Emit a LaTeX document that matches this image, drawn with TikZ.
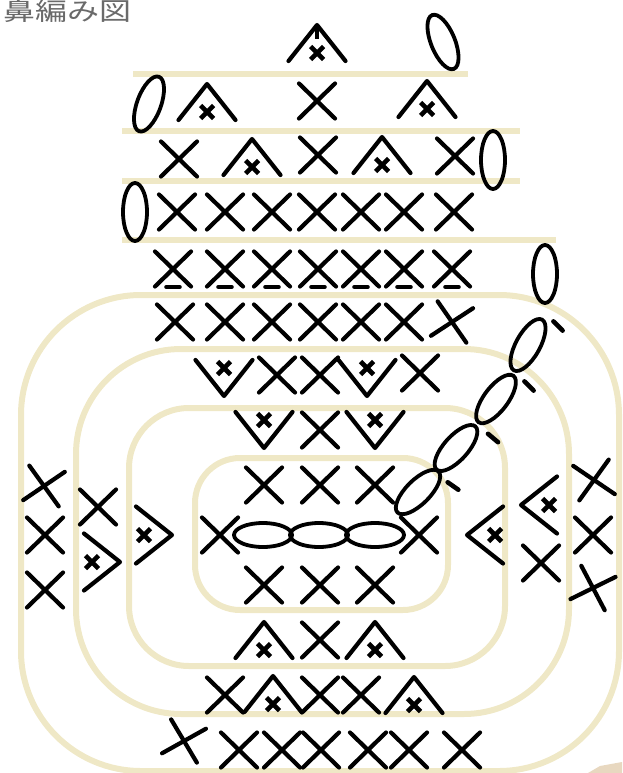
\documentclass[tikz,border=0pt]{standalone}
\usepackage{fontspec}
\newfontfamily\cjkfont{Noto Sans CJK JP}
\definecolor{rowline}{HTML}{EFE8C6}
\definecolor{titlegray}{HTML}{6A6A6A}
\definecolor{smudge}{HTML}{E8D8C0}
\tikzset{
  ink/.style={line width=4.2pt,line cap=round,black},
  rowrule/.style={line width=6pt,rowline},
  xst/.pic={\draw[ink] (-18,-17.5) -- (18,17.5) (-18,17.5) -- (18,-17.5);},
  smallx/.pic={\draw[line width=4.6pt,black] (-6.5,-6.5) -- (6.5,6.5) (-6.5,6.5) -- (6.5,-6.5);},
  tentst/.pic={\draw[ink,line join=round] (-28.5,18) -- (0,-18) -- (28.5,18);
    \pic at (0,10) {smallx};},
  chainst/.pic={\draw[line width=3.8pt,black] (0,0) ellipse [x radius=29,y radius=12];},
  dashst/.pic={\draw[line width=4.6pt,line cap=round,black] (-6.5,0) -- (6.5,0);}
}
\begin{document}
\begin{tikzpicture}[x=1pt,y=-1pt]
\useasboundingbox (0,0) rectangle (622,773);
% rows
\draw[rowrule] (133,74) -- (468,74);
\draw[rowrule] (122,131) -- (520,131);
\draw[rowrule] (122,181) -- (520,181);
\draw[rowrule] (122,240) -- (556,240);
% rounds
\draw[rowrule,rounded corners=120pt] (21,295) rectangle (619,771);
\draw[rowrule,rounded corners=105pt] (76,349) rectangle (569,714);
\draw[rowrule,rounded corners=60pt] (129,408) rectangle (505,666);
\draw[rowrule,rounded corners=45pt] (195,458) rectangle (448,610);
\fill[smudge] (588,773) -- (600,766) -- (622,762) -- (622,773) -- cycle;
\node[anchor=west,inner sep=0pt,text=titlegray,yscale=0.78,font=\cjkfont\fontsize{32}{32}\selectfont] (title) at (3,11.5) {鼻編み図};
% top part
\pic at (317,43) {tentst};
\draw[line width=4.6pt,black] (317,28) -- (317,39);
\pic[rotate=-68] at (443,42) {chainst};
\pic[rotate=70] at (149,104) {chainst};
\pic at (207,102) {tentst};
\pic at (317,101) {xst};
\pic at (427,99) {tentst};
\pic at (179,159) {xst};
\pic at (252,157) {tentst};
\pic at (318,155) {xst};
\pic at (382,155) {tentst};
\pic at (455,156) {xst};
\pic[rotate=90] at (493,160) {chainst};
\pic[rotate=90] at (135,212) {chainst};
\foreach \x in {177,225,272,317,361,404,454} \pic at (\x,212) {xst};
\foreach \x in {173,225,272,318,361,404,452} {
  \pic at (\x,269) {xst};
  \pic at (\x,287) {dashst};
}
\pic[rotate=90] at (545,274) {chainst};
\foreach \x in {175,225,272,318,361,404} \pic at (\x,322) {xst};
\pic[rotate=-11] at (452,322) {xst};
% increases
\pic[rotate=180] at (224,378) {tentst};
\pic at (277,375) {xst};
\pic at (320,375) {xst};
\pic[rotate=180] at (367,378) {tentst};
\pic at (420,373) {xst};
\pic[rotate=180] at (264,430) {tentst};
\pic at (320,430) {xst};
\pic[rotate=180] at (375,430) {tentst};
\foreach \x in {264,320,375} {
  \pic at (\x,485) {xst};
  \pic at (\x,585) {xst};
}
% centre
\pic at (220,535) {xst};
\foreach \x in {263,319,375} \pic at (\x,535) {chainst};
\pic at (419,535) {xst};
% slip chain
\pic[rotate=45] at (418,492) {chainst};
\pic[rotate=48] at (456,448) {chainst};
\pic[rotate=53] at (496,399) {chainst};
\pic[rotate=61] at (528,345) {chainst};
\pic[rotate=-35] at (453,486) {dashst};
\pic[rotate=-40] at (493,438) {dashst};
\pic[rotate=-45] at (529,386) {dashst};
\pic[rotate=-45] at (558,326) {dashst};
% left side
\pic[rotate=-10] at (44,486) {xst};
\pic at (45,535) {xst};
\pic at (45,590) {xst};
\pic at (98,507) {xst};
\pic[rotate=-90] at (102,562) {tentst};
\pic[rotate=-90] at (154,535) {tentst};
% right side
\pic[rotate=90] at (485,535) {tentst};
\pic[rotate=90] at (539,505) {tentst};
\pic at (541,563) {xst};
\pic[rotate=10] at (594,480) {xst};
\pic at (593,535) {xst};
\pic[rotate=-18] at (593,588) {xst};
% bottom
\pic at (264,640) {tentst};
\pic at (320,640) {xst};
\pic at (375,640) {tentst};
\pic at (225,695) {xst};
\pic at (273,694) {tentst};
\pic at (320,695) {xst};
\pic at (361,695) {xst};
\pic at (414,695) {tentst};
\pic[rotate=-15] at (184,741) {xst};
\foreach \x in {239,282,321,368,409,462} \pic at (\x,750) {xst};
\end{tikzpicture}
\end{document}
